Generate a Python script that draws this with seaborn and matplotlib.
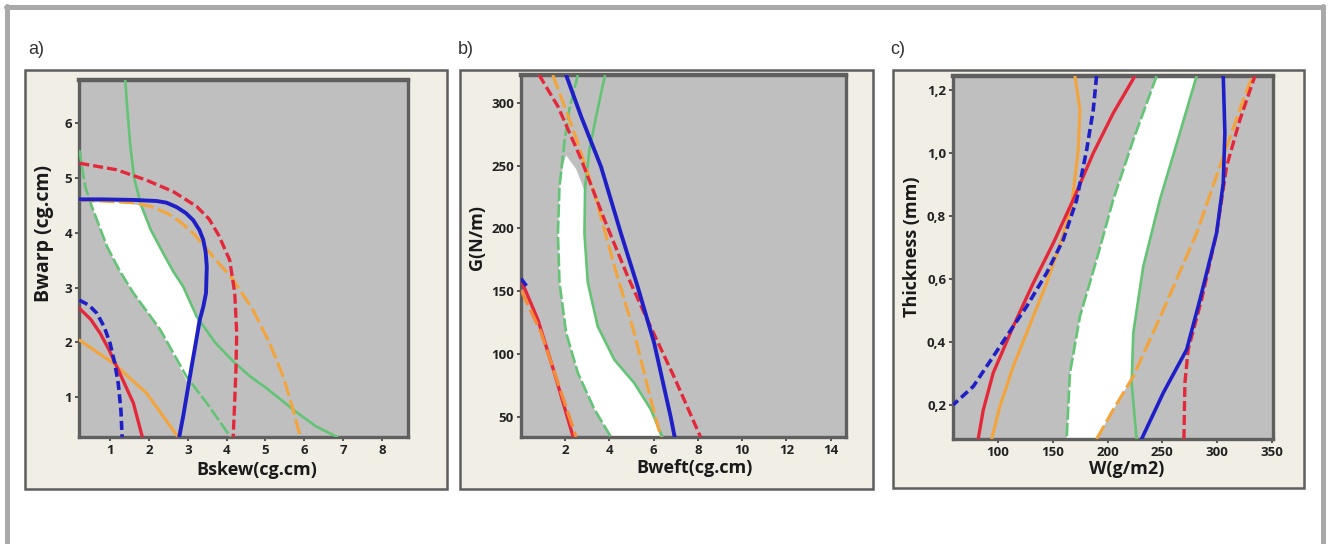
import numpy as np
import pandas as pd
import matplotlib
matplotlib.use("Agg")
import matplotlib.pyplot as plt
import seaborn as sns
from matplotlib.patches import Rectangle
from matplotlib.lines import Line2D

# ---------------- data ----------------
# Panel a : Bskew vs Bwarp
a_xticks = [1, 2, 3, 4, 5, 6, 7, 8]
a_yticks = [1, 2, 3, 4, 5, 6]
a_green1_x = [1.39, 1.45, 1.52, 1.62, 1.80, 2.05, 2.35, 2.62, 2.88, 3.23, 3.70, 4.17, 4.60, 5.03, 5.40, 5.71, 6.31, 6.85]
a_green1_y = [6.79, 6.20, 5.60, 5.00, 4.50, 4.05, 3.65, 3.30, 3.02, 2.47, 2.00, 1.65, 1.38, 1.16, 0.95, 0.77, 0.46, 0.27]
a_green2_x = [0.21, 0.36, 0.53, 0.92, 1.25, 1.60, 2.29, 2.97, 3.49, 4.10]
a_green2_y = [5.51, 4.84, 4.48, 3.75, 3.30, 2.90, 2.23, 1.37, 0.89, 0.27]
a_red1_x = [0.21, 1.17, 1.94, 2.63, 3.23, 3.55, 3.80, 4.08, 4.21, 4.26, 4.24, 4.21, 4.17]
a_red1_y = [5.27, 5.15, 4.96, 4.75, 4.48, 4.25, 3.95, 3.50, 2.90, 2.17, 1.50, 0.95, 0.27]
a_blue1_x = [0.21, 0.80, 1.60, 2.20, 2.45, 2.71, 2.95, 3.14, 3.30, 3.40, 3.46, 3.49, 3.47, 3.40, 3.31, 3.10, 2.88, 2.78]
a_blue1_y = [4.61, 4.61, 4.60, 4.58, 4.55, 4.47, 4.36, 4.23, 4.05, 3.87, 3.65, 3.38, 2.90, 2.65, 2.41, 1.56, 0.64, 0.27]
a_orange1_x = [0.21, 1.60, 2.05, 2.46, 2.80, 3.14, 3.66, 4.17, 4.68, 5.11, 5.46, 5.71, 5.90]
a_orange1_y = [4.60, 4.55, 4.48, 4.36, 4.20, 3.99, 3.56, 3.14, 2.59, 1.98, 1.37, 0.77, 0.27]
a_blue2_x = [0.21, 0.45, 0.66, 0.85, 1.00, 1.12, 1.21, 1.28, 1.31]
a_blue2_y = [2.77, 2.68, 2.53, 2.28, 1.98, 1.62, 1.25, 0.75, 0.27]
a_red2_x = [0.21, 0.50, 0.74, 0.96, 1.17, 1.40, 1.60, 1.83]
a_red2_y = [2.62, 2.42, 2.17, 1.88, 1.56, 1.20, 0.89, 0.27]
a_orange2_x = [0.21, 1.08, 1.94, 2.75]
a_orange2_y = [2.04, 1.62, 1.07, 0.27]
a_white_x = [0.48, 1.00, 1.80, 2.05, 2.35, 2.62, 2.88, 3.25, 3.12, 2.99, 2.29, 1.60, 1.25, 0.92, 0.53, 0.48]
a_white_y = [4.55, 4.57, 4.50, 4.05, 3.65, 3.30, 3.02, 2.45, 1.60, 1.27, 2.23, 2.90, 3.30, 3.75, 4.48, 4.55]

# Panel b : Bweft vs G
b_xticks = [2, 4, 6, 8, 10, 12, 14]
b_yticks = [50, 100, 150, 200, 250, 300]
b_red1_x = [0.82, 1.67, 2.72, 3.77, 4.82, 5.72, 6.92, 8.12]
b_red1_y = [322, 297, 255, 207, 162, 127, 82, 34]
b_blue1_x = [2.04, 2.72, 3.62, 4.52, 5.27, 6.02, 6.77, 6.95]
b_blue1_y = [322, 289, 249, 196, 154, 109, 50, 34]
b_orange1_x = [1.44, 2.41, 3.32, 4.22, 5.12, 5.87, 6.32]
b_orange1_y = [322, 276, 228, 170, 117, 64, 34]
b_green1_x = [3.80, 3.47, 3.10, 2.90, 2.87, 3.02, 3.47, 4.22, 5.12, 5.87, 6.40]
b_green1_y = [322, 295, 263, 233, 196, 157, 122, 95.5, 77, 56, 34]
b_green2_x = [2.57, 2.19, 1.96, 1.74, 1.67, 1.74, 2.04, 2.57, 3.32, 4.07]
b_green2_y = [322, 295, 268, 233, 196, 157, 117, 85, 56, 34]
b_red2_x = [0.0, 0.77, 1.51, 2.36]
b_red2_y = [159, 127, 85, 34]
b_orange2_x = [0.0, 0.91, 1.67, 2.49]
b_orange2_y = [151, 117, 77, 34]
b_blue2_x = [0.0, 0.30]
b_blue2_y = [160, 153]
b_white_x = [2.04, 1.90, 1.74, 1.67, 1.74, 2.04, 2.57, 3.32, 4.07, 6.30, 5.87, 5.12, 4.22, 3.47, 3.02, 2.87, 2.87, 2.50, 2.04]
b_white_y = [258, 250, 233, 196, 157, 117, 85, 56, 34, 34, 56, 77, 95.5, 122, 157, 196, 230, 247, 258]

# Panel c : W vs Thickness
c_xticks = [100, 150, 200, 250, 300, 350]
c_yticks = [0.2, 0.4, 0.6, 0.8, 1.0, 1.2]
c_ytick_labels = ["0,2", "0,4", "0,6", "0,8", "1,0", "1,2"]
c_orange1_x = [170.3, 174.8, 173.3, 167.2, 158.1, 144.4, 126.2, 114.0, 101.8, 94.3]
c_orange1_y = [1.244, 1.137, 1.010, 0.830, 0.724, 0.586, 0.428, 0.322, 0.195, 0.091]
c_blue1_x = [190.0, 187.0, 181.0, 171.8, 159.6, 144.4, 126.2, 114.0, 95.7, 77.5, 59.3]
c_blue1_y = [1.244, 1.137, 1.010, 0.850, 0.724, 0.618, 0.512, 0.449, 0.353, 0.258, 0.200]
c_red1_x = [225.0, 205.2, 187.0, 168.7, 150.5, 132.2, 114.0, 95.7, 86.6, 82.0]
c_red1_y = [1.244, 1.126, 0.999, 0.851, 0.713, 0.586, 0.449, 0.301, 0.183, 0.091]
c_green1_x = [244.8, 223.5, 205.2, 190.0, 174.8, 165.7, 162.7]
c_green1_y = [1.244, 1.041, 0.851, 0.660, 0.480, 0.300, 0.091]
c_green2_x = [281.3, 266.0, 247.8, 232.6, 223.5, 222.0, 226.5]
c_green2_y = [1.244, 1.063, 0.851, 0.639, 0.428, 0.269, 0.091]
c_orange2_x = [190.0, 205.2, 223.5, 250.8, 281.3, 305.6, 323.8, 332.4]
c_orange2_y = [0.091, 0.184, 0.290, 0.500, 0.745, 0.988, 1.168, 1.244]
c_blue2_x = [231.1, 250.8, 272.2, 284.3, 299.5, 305.6, 307.1, 305.6]
c_blue2_y = [0.091, 0.237, 0.375, 0.533, 0.745, 0.904, 1.063, 1.244]
c_red2_x = [269.7, 270.6, 273.6, 285.8, 299.5, 308.7, 320.8, 334.5]
c_red2_y = [0.091, 0.269, 0.375, 0.533, 0.745, 0.957, 1.105, 1.244]
c_white_x = [244.8, 223.5, 205.2, 190.0, 174.8, 165.7, 162.7, 190.0, 205.2, 222.5, 223.5, 232.6, 247.8, 266.0, 281.3]
c_white_y = [1.244, 1.041, 0.851, 0.660, 0.480, 0.300, 0.091, 0.091, 0.184, 0.285, 0.428, 0.639, 0.851, 1.063, 1.244]

# ---------------- style ----------------
sns.set_theme(style="white")
plt.rcParams['font.family'] = ['Open Sans', 'DejaVu Sans']

BLUE = "#1f1fc8"
RED = "#e4283a"
ORANGE = "#f3a43a"
GREEN = "#62c474"
GRAYBG = "#bfbfbf"
BEIGE = "#f1eee6"

fig = plt.figure(figsize=(13.28, 5.44), dpi=100)
fig.patch.set_facecolor("white")

W, H = 1328.0, 544.0


def fx(px):
    return px / W


def fy(py):
    return 1 - py / H


# outer border
for (x0, y0, x1, y1) in [(6, 6.5, 1323, 6.5), (6.5, 6, 6.5, 544), (1323, 6, 1323, 544)]:
    fig.add_artist(Line2D([fx(x0), fx(x1)], [fy(y0), fy(y1)], transform=fig.transFigure,
                          color="#a9a9a9", lw=3.6, zorder=0))

# beige boxes (pixel coords: left, top, right, bottom)
boxes = [(25, 70, 447, 489), (460, 70, 873, 489), (893, 70, 1304, 488)]
for (l, t, r, b) in boxes:
    fig.add_artist(Rectangle((fx(l), fy(b)), fx(r - l), (b - t) / H, transform=fig.transFigure,
                             facecolor=BEIGE, edgecolor="#5e5e5e", lw=1.8, zorder=-1))

panel_letters = [("a)", 28), ("b)", 458), ("c)", 890)]
for txt, px in panel_letters:
    fig.text(fx(px), fy(49), txt, fontsize=13, color="#333333", va="center", ha="left",
             family=["Liberation Sans", "DejaVu Sans"])

axes_px = [(79, 80, 408, 437), (521, 75, 846, 437), (953, 76, 1273, 439)]
axs = []
for (l, t, r, b) in axes_px:
    ax = fig.add_axes([fx(l), fy(b), (r - l) / W, (b - t) / H])
    axs.append(ax)


def draw(ax, x, y, color, lw=2.3, ls="-", alpha=1.0, z=3):
    df = pd.DataFrame({"x": x, "y": y})
    sns.lineplot(data=df, x="x", y="y", sort=False, estimator=None, errorbar=None, color=color,
                 lw=lw, linestyle=ls, alpha=alpha, ax=ax, zorder=z)


def style_axes(ax, xlim, ylim, xticks, yticks, xlabel, ylabel, xlab_pos, ylab_pos, ylabels=None,
               ylab_size=13):
    ax.set_facecolor(GRAYBG)
    ax.set_xlim(*xlim)
    ax.set_ylim(*ylim)
    ax.set_xticks(xticks)
    ax.set_yticks(yticks)
    if ylabels is not None:
        ax.set_yticklabels(ylabels)
    for name, sp in ax.spines.items():
        sp.set_color("#5f5f5f")
        sp.set_linewidth(3.2 if name == "top" else 2.4)
        sp.set_visible(True)
    ax.tick_params(axis="both", which="major", direction="out", length=3, width=1.4, color="#555555",
                   labelsize=9.5, labelcolor="#222222", pad=2, bottom=True, left=True)
    for lab in ax.get_xticklabels() + ax.get_yticklabels():
        lab.set_fontweight("bold")
    ax.set_xlabel(xlabel, fontsize=13, fontweight="bold", color="#1a1a1a", va="center")
    ax.set_ylabel(ylabel, fontsize=ylab_size, fontweight="bold", color="#1a1a1a", va="center")
    ax.xaxis.set_label_coords(*xlab_pos)
    ax.yaxis.set_label_coords(*ylab_pos)


# ---- panel a ----
ax = axs[0]
ax.fill(a_white_x, a_white_y, color="white", zorder=1, lw=0)
draw(ax, a_green1_x, a_green1_y, GREEN, lw=1.9)
draw(ax, a_green2_x, a_green2_y, GREEN, lw=1.9, ls=(0, (5, 1.2)))
draw(ax, a_orange1_x, a_orange1_y, ORANGE, lw=2.2, ls=(0, (5, 1.5)))
draw(ax, a_orange2_x, a_orange2_y, ORANGE, lw=2.2)
draw(ax, a_red1_x, a_red1_y, RED, lw=2.4, ls=(0, (3, 1.2)))
draw(ax, a_red2_x, a_red2_y, RED, lw=2.4)
draw(ax, a_blue1_x, a_blue1_y, BLUE, lw=2.8)
draw(ax, a_blue2_x, a_blue2_y, BLUE, lw=2.6, ls=(0, (2.5, 1.2)))
style_axes(ax, (0.2, 8.67), (0.27, 6.79), a_xticks, a_yticks, "Bskew(cg.cm)", "Bwarp (cg.cm)",
           (0.541, -0.092), (-0.106, 0.571), ylab_size=14)

# ---- panel b ----
ax = axs[1]
ax.fill(b_white_x, b_white_y, color="white", zorder=1, lw=0)
draw(ax, b_green1_x, b_green1_y, GREEN, lw=1.9)
draw(ax, b_green2_x, b_green2_y, GREEN, lw=1.9, ls=(0, (5, 1.2)))
draw(ax, b_orange1_x, b_orange1_y, ORANGE, lw=2.2, ls=(0, (5, 1.5)))
draw(ax, b_red1_x, b_red1_y, RED, lw=2.4, ls=(0, (3, 1.2)))
draw(ax, b_blue1_x, b_blue1_y, BLUE, lw=2.8)
draw(ax, b_red2_x, b_red2_y, RED, lw=2.4)
draw(ax, b_orange2_x, b_orange2_y, "#f58a3a", lw=2.4, ls=(0, (5, 1.5)))
draw(ax, b_blue2_x, b_blue2_y, BLUE, lw=2.6, ls=(0, (2.5, 1.2)))
style_axes(ax, (0.0, 14.7), (34, 322), b_xticks, b_yticks, "Bweft(cg.cm)", "G(N/m)",
           (0.535, -0.086), (-0.135, 0.552))

# ---- panel c ----
ax = axs[2]
ax.fill(c_white_x, c_white_y, color="white", zorder=1, lw=0)
draw(ax, c_green1_x, c_green1_y, GREEN, lw=1.9, ls=(0, (5, 1.2)))
draw(ax, c_green2_x, c_green2_y, GREEN, lw=1.9)
draw(ax, c_orange1_x, c_orange1_y, ORANGE, lw=2.2)
draw(ax, c_orange2_x, c_orange2_y, ORANGE, lw=2.2, ls=(0, (5, 1.5)))
draw(ax, c_red1_x, c_red1_y, RED, lw=2.4)
draw(ax, c_red2_x, c_red2_y, RED, lw=2.4, ls=(0, (3, 1.2)))
draw(ax, c_blue1_x, c_blue1_y, BLUE, lw=2.6, ls=(0, (2.5, 1.2)))
draw(ax, c_blue2_x, c_blue2_y, BLUE, lw=2.6)
style_axes(ax, (59, 351), (0.091, 1.244), c_xticks, c_yticks, "W(g/m2)", "Thickness (mm)",
           (0.544, -0.083), (-0.128, 0.529), ylabels=c_ytick_labels)

for ax in axs:
    leg = ax.get_legend()
    if leg is not None:
        leg.remove()

fig.savefig("out.png", dpi=100, facecolor=fig.get_facecolor())
